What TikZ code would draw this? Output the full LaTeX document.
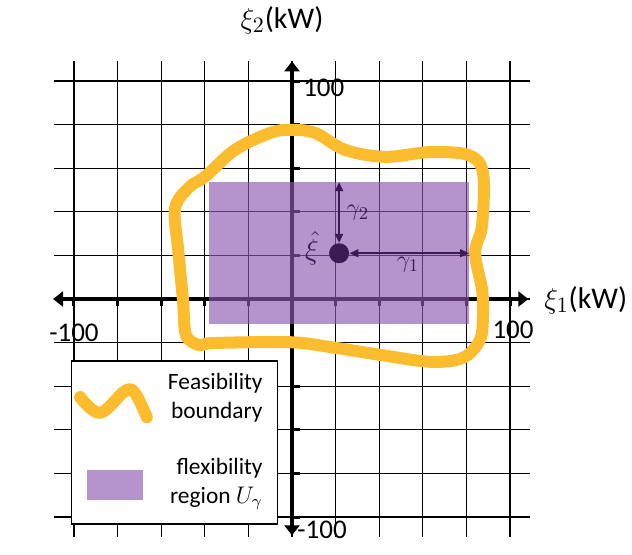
\documentclass[tikz,border=0pt]{standalone}
\usepackage{fontspec}
\setmainfont{Carlito}
\usetikzlibrary{arrows.meta,positioning,calc}
\definecolor{fbInk}{HTML}{000000}
\definecolor{fbGold}{HTML}{FBBC2E}
\definecolor{fbLilac}{RGB}{142,89,178}
\definecolor{fbPlum}{HTML}{3C1A56}
\tikzset{
  gridline/.style ={fbInk,line width=0.6pt},
  axis/.style     ={fbInk,line width=2pt,{Triangle[length=5pt,width=7.5pt]}-{Triangle[length=5pt,width=7.5pt]}},
  axtick/.style   ={fbInk,line width=1.5pt},
  region/.style   ={fill=fbLilac,fill opacity=0.65,draw=none},
  legregion/.style={fill=fbLilac!65,draw=none},
  boundary/.style ={fbGold,line width=6pt,line cap=round,line join=round},
  gam/.style      ={{Triangle[length=4.5pt,width=4pt]}-{Triangle[length=4.5pt,width=4pt]},
                    fbPlum,line width=0.8pt},
  nom/.style      ={circle,fill=fbPlum,inner sep=0pt,minimum size=10pt},
  axlbl/.style    ={font=\fontsize{15}{18}\selectfont,text=fbInk},
  numlbl/.style   ={font=\fontsize{13.5}{16}\selectfont,text=fbInk,inner sep=0pt},
  mlbl/.style     ={font=\fontsize{13}{16}\selectfont,text=fbPlum,inner sep=0pt},
  legbox/.style   ={draw=fbInk,line width=0.6pt,fill=white,minimum width=102.7pt,
                    minimum height=81.5pt,inner sep=0pt},
  legtxt/.style   ={font=\fontsize{11.7}{14.5}\selectfont,align=right,anchor=east,inner sep=0pt},
}

\begin{document}
\begin{tikzpicture}[x=21.8pt,y=21.8pt]
\useasboundingbox (-6.697,-5.849) rectangle (7.798,6.858);

% grid
\foreach \k in {-5,...,5}{
  \draw[gridline] (\k,-5.45) -- (\k,5.45);
  \draw[gridline] (-5.45,\k) -- (5.45,\k);
}

% axes
\coordinate (xL) at (-5.48,0);
\coordinate (xR) at (5.42,0);
\coordinate (yB) at (0,-5.42);
\coordinate (yT) at (0,5.45);
\draw[axis] (xL) -- (xR);
\draw[axis] (yB) -- (yT);
\foreach \k in {-5,...,-1,1,2,...,5}{
  \draw[axtick] (\k,0) -- (\k,-0.16);
  \draw[axtick] (0,\k) -- (0.19,\k);
}

% flexibility region
\coordinate (rSW) at (-1.90,-0.57);
\coordinate (rNE) at (4.06,2.68);
\path[region] (rSW) rectangle (rNE);

% feasibility boundary
\draw[boundary] plot[smooth cycle,tension=0.55] coordinates {
  (-2.68,2.09) (-2.61,1.12) (-2.50,-0.02) (-2.43,-0.83) (-2.11,-1.06)
  (-1.81,-1.01) (-0.05,-0.99) (0.87,-1.10) (2.02,-1.28) (3.17,-1.44)
  (3.92,-1.35) (4.31,-0.94) (4.38,-0.40) (4.36,0.21) (4.20,1.06)
  (4.36,1.70) (4.38,2.90) (4.05,3.30) (3.17,3.37) (2.13,3.26)
  (1.22,3.42) (0.53,3.81) (-0.05,3.88) (-0.50,3.81) (-1.31,3.42)
  (-2.00,2.80) (-2.34,2.58)};

% nominal point and radii
\node[nom] (xihat) at (1.08,1.05) {};
\draw[gam] (xihat.east) -- (xihat -| rNE);
\draw[gam] (xihat.north) -- (xihat |- rNE);
\node[mlbl] (g2) at (1.51,1.97) {$\gamma_2$};
\node[mlbl] (g1) at (2.66,0.78) {$\gamma_1$};
\node[mlbl,font=\fontsize{14}{16}\selectfont] (xh) at (0.46,1.17) {$\hat{\xi}$};

% axis labels
\node[axlbl] (lx2) at (-0.23,6.40) {$\xi_2$(kW)};
\node[axlbl] (lx1) at (6.74,-0.02) {$\xi_1$(kW)};
\node[numlbl] (ytop) at (0.73,4.84) {100};
\node[numlbl] (ybot) at (0.69,-5.30) {-100};
\node[numlbl] (xlft) at (-5.00,-0.78) {-100};
\node[numlbl] (xrgt) at (5.07,-0.71) {100};

% legend
\node[legbox] (legend) at (-2.695,-3.29) {};
\draw[boundary] plot[smooth,tension=0.6] coordinates {
  (-4.86,-2.25) (-4.40,-2.61) (-3.83,-2.11) (-3.60,-2.16) (-3.33,-2.71)};
\node[legtxt] (legF) at (-0.665,-2.26) {Feasibility\\boundary};
\path[legregion] (-4.70,-4.61) rectangle (-3.42,-3.92);
\node[legtxt] (legU) at (-0.665,-4.24) {flexibility\\region $U_\gamma$};
\end{tikzpicture}
\end{document}
